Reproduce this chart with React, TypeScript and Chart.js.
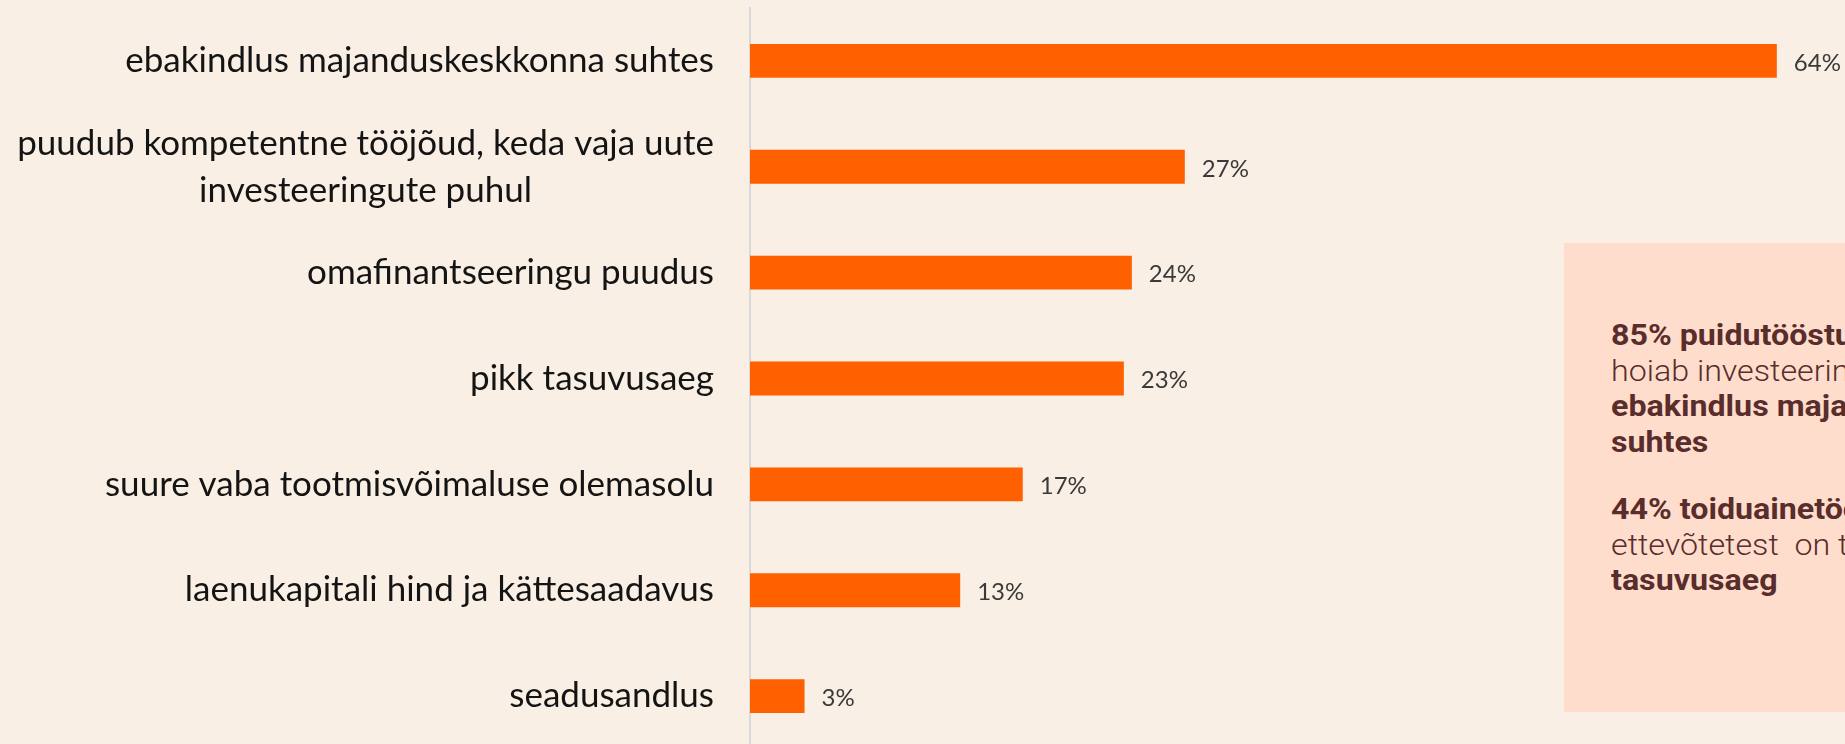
import React, { useEffect, useRef } from "react";
import { Chart, registerables } from "chart.js";

Chart.register(...registerables);

const categories: (string | string[])[] = [
  "ebakindlus majanduskeskkonna suhtes",
  ["puudub kompetentne tööjõud, keda vaja uute", "investeeringute puhul"],
  "omafinantseeringu puudus",
  "pikk tasuvusaeg",
  "suure vaba tootmisvõimaluse olemasolu",
  "laenukapitali hind ja kättesaadavus",
  "seadusandlus",
];

const values: number[] = [64, 27.1, 23.8, 23.3, 17, 13.1, 3.4];

const valueLabels: string[] = values.map((v) => `${Math.round(v)}%`);

const calloutLines: { text: string; bold: boolean }[] = [
  { text: "85% puidutööstuse ettevõtetest", bold: true },
  { text: "hoiab investeeringutest tagasi", bold: false },
  { text: "ebakindlus majanduskeskkonna", bold: true },
  { text: "suhtes", bold: true },
  { text: "", bold: false },
  { text: "44% toiduainetööstuse", bold: true },
  { text: "ettevõtetest  on takistuseks pikk", bold: false },
  { text: "tasuvusaeg", bold: true },
];

const BG = "#F9EFE5";
const BAR = "#FF6100";

const yLabelPlugin = {
  id: "yLabelPlugin",
  afterDraw(chart: any) {
    const { ctx } = chart;
    const yScale = chart.scales.y;
    ctx.save();
    ctx.font = "35px Lato";
    ctx.fillStyle = "#141414";
    ctx.textBaseline = "middle";
    ctx.textAlign = "center";
    const right = chart.chartArea.left - 36;
    const lh = 47;
    categories.forEach((lab, i) => {
      const lines = Array.isArray(lab) ? lab : [lab];
      const w = Math.max(...lines.map((l) => ctx.measureText(l).width));
      const cx = right - w / 2;
      const cy = yScale.getPixelForValue(i);
      lines.forEach((l, j) => {
        ctx.fillText(l, cx, cy + (j - (lines.length - 1) / 2) * lh);
      });
    });
    ctx.restore();
  },
};

const valueLabelPlugin = {
  id: "valueLabelPlugin",
  afterDatasetsDraw(chart: any) {
    const { ctx } = chart;
    const meta = chart.getDatasetMeta(0);
    ctx.save();
    ctx.font = "24px Lato";
    ctx.fillStyle = "#3A3A3A";
    ctx.textBaseline = "middle";
    ctx.textAlign = "left";
    meta.data.forEach((bar: any, i: number) => {
      ctx.fillText(valueLabels[i], bar.x + 17, bar.y + 2);
    });
    ctx.restore();
  },
};

export default function App() {
  const canvasRef = useRef<HTMLCanvasElement | null>(null);

  useEffect(() => {
    if (!canvasRef.current) return;
    const chart = new Chart(canvasRef.current, {
      type: "bar",
      data: {
        labels: categories as any,
        datasets: [
          {
            data: values,
            backgroundColor: BAR,
            borderWidth: 0,
            barPercentage: 0.32,
            categoryPercentage: 1,
          },
        ],
      },
      options: {
        indexAxis: "y",
        responsive: false,
        animation: false,
        devicePixelRatio: 1,
        layout: { padding: { top: 8, right: 4, left: 0, bottom: 0 } },
        plugins: {
          legend: { display: false },
          tooltip: { enabled: false },
        },
        scales: {
          x: {
            min: 0,
            max: 68,
            display: false,
          },
          y: {
            type: "category",
            grid: { display: false },
            ticks: { display: false },
            border: { display: true, color: "#D9D9D9", width: 2 },
            afterFit: (s: any) => {
              s.width = 750;
            },
          },
        },
      },
      plugins: [yLabelPlugin, valueLabelPlugin],
    });
    return () => chart.destroy();
  }, []);

  return (
    <div
      style={{
        position: "fixed",
        left: 0,
        top: 0,
        width: 1845,
        height: 744,
        overflow: "hidden",
        background: BG,
      }}
    >
      <canvas
        ref={canvasRef}
        width={1845}
        height={749}
        style={{ position: "absolute", left: 0, top: 0 }}
      />
      <div
        style={{
          position: "absolute",
          left: 1564,
          top: 243,
          width: 400,
          height: 469,
          background: "#FFDDCC",
        }}
      />
      <div
        style={{
          position: "absolute",
          left: 1611,
          top: 318,
          fontFamily: "Roboto",
          fontSize: 29,
          lineHeight: "35.5px",
          color: "#5A2D2D",
          whiteSpace: "pre",
          transform: "scaleX(1.11)",
          transformOrigin: "left top",
        }}
      >
        {calloutLines.map((l, i) => (
          <div
            key={i}
            style={{
              fontWeight: l.bold ? 700 : 300,
              height: l.text === "" ? 32 : undefined,
            }}
          >
            {l.text}
          </div>
        ))}
      </div>
    </div>
  );
}
